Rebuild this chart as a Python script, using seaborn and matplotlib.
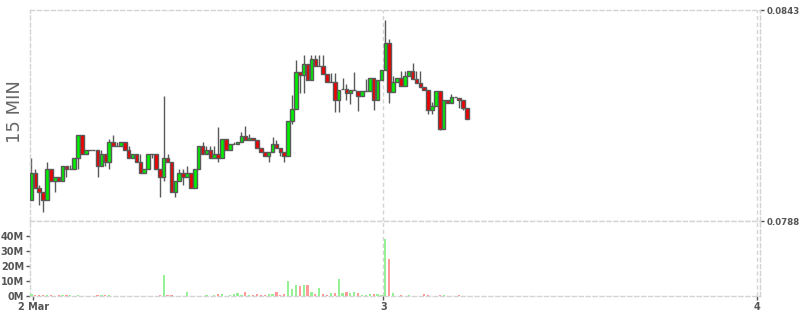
import numpy as np
import pandas as pd
import matplotlib
matplotlib.use("Agg")
import matplotlib.pyplot as plt
import seaborn as sns

# 15-minute slot index (counted from 2 Mar 00:00) of the first candle
first_slot = 5

opens = [0.07935, 0.08004, 0.07965, 0.07955, 0.07935, 0.08015, 0.07984, 0.07994, 0.07984, 0.08024,
         0.08015, 0.08015, 0.08043, 0.08104, 0.08054, 0.08064, 0.08064, 0.08064, 0.08024, 0.08054,
         0.08033, 0.08085, 0.08075, 0.08075, 0.08085, 0.08064, 0.08043, 0.08054, 0.08033, 0.08004,
         0.08015, 0.08054, 0.08054, 0.08015, 0.07994, 0.08043, 0.08033, 0.07955, 0.07984, 0.08004,
         0.07994, 0.08004, 0.07965, 0.08015, 0.08075, 0.08054, 0.08064, 0.08043, 0.08054, 0.08043,
         0.08094, 0.08064, 0.08080, 0.08080, 0.08085, 0.08101, 0.08090, 0.08096, 0.08090, 0.08070,
         0.08059, 0.08050, 0.08059, 0.08080, 0.08071, 0.08061, 0.08050, 0.08141, 0.08171, 0.08268,
         0.08261, 0.08290, 0.08247, 0.08303, 0.08285, 0.08285, 0.08264, 0.08242, 0.08242, 0.08195,
         0.08224, 0.08224, 0.08214, 0.08222, 0.08219, 0.08205, 0.08219, 0.08219, 0.08252, 0.08196,
         0.08248, 0.08274, 0.08344, 0.08216, 0.08242, 0.08252, 0.08231, 0.08257, 0.08270, 0.08250,
         0.08240, 0.08229, 0.08221, 0.08170, 0.08179, 0.08218, 0.08121, 0.08196, 0.08188, 0.08202,
         0.08200, 0.08195, 0.08174]

highs = [0.08043, 0.08015, 0.07974, 0.07955, 0.08033, 0.08015, 0.07994, 0.07994, 0.08024, 0.08024,
         0.08026, 0.08043, 0.08104, 0.08104, 0.08064, 0.08064, 0.08064, 0.08064, 0.08064, 0.08054,
         0.08094, 0.08104, 0.08085, 0.08085, 0.08085, 0.08075, 0.08054, 0.08054, 0.08054, 0.08015,
         0.08054, 0.08054, 0.08054, 0.08015, 0.08206, 0.08054, 0.08033, 0.07984, 0.08015, 0.08015,
         0.08024, 0.08004, 0.08015, 0.08075, 0.08085, 0.08075, 0.08075, 0.08075, 0.08124, 0.08094,
         0.08094, 0.08080, 0.08085, 0.08085, 0.08111, 0.08128, 0.08107, 0.08096, 0.08090, 0.08070,
         0.08059, 0.08059, 0.08100, 0.08091, 0.08071, 0.08061, 0.08141, 0.08208, 0.08300, 0.08268,
         0.08313, 0.08290, 0.08313, 0.08313, 0.08313, 0.08313, 0.08264, 0.08266, 0.08266, 0.08222,
         0.08253, 0.08237, 0.08222, 0.08268, 0.08219, 0.08219, 0.08250, 0.08252, 0.08252, 0.08248,
         0.08274, 0.08403, 0.08355, 0.08257, 0.08252, 0.08270, 0.08270, 0.08270, 0.08292, 0.08270,
         0.08270, 0.08229, 0.08221, 0.08189, 0.08218, 0.08218, 0.08196, 0.08196, 0.08212, 0.08202,
         0.08200, 0.08195, 0.08174]

lows = [0.07935, 0.07965, 0.07922, 0.07904, 0.07935, 0.07984, 0.07955, 0.07984, 0.07984, 0.07994,
        0.08015, 0.08015, 0.08015, 0.08054, 0.08054, 0.08064, 0.08064, 0.07994, 0.08024, 0.08024,
        0.08015, 0.08075, 0.08075, 0.08075, 0.08064, 0.08043, 0.08043, 0.08033, 0.08004, 0.08004,
        0.08015, 0.08043, 0.08015, 0.07943, 0.07983, 0.08033, 0.07955, 0.07943, 0.07984, 0.07974,
        0.07994, 0.07965, 0.07965, 0.08015, 0.08054, 0.08054, 0.08043, 0.08043, 0.08033, 0.08043,
        0.08064, 0.08064, 0.08080, 0.08080, 0.08085, 0.08090, 0.08090, 0.08090, 0.08070, 0.08059,
        0.08050, 0.08035, 0.08059, 0.08071, 0.08050, 0.08033, 0.08050, 0.08132, 0.08171, 0.08214,
        0.08214, 0.08247, 0.08247, 0.08285, 0.08285, 0.08264, 0.08242, 0.08242, 0.08164, 0.08163,
        0.08224, 0.08195, 0.08185, 0.08222, 0.08167, 0.08205, 0.08219, 0.08219, 0.08170, 0.08196,
        0.08248, 0.08274, 0.08188, 0.08216, 0.08242, 0.08231, 0.08231, 0.08257, 0.08250, 0.08240,
        0.08229, 0.08221, 0.08160, 0.08160, 0.08179, 0.08116, 0.08121, 0.08188, 0.08188, 0.08202,
        0.08175, 0.08169, 0.08145]

closes = [0.08004, 0.07965, 0.07955, 0.07935, 0.08015, 0.07984, 0.07994, 0.07984, 0.08024, 0.08015,
          0.08015, 0.08043, 0.08104, 0.08054, 0.08064, 0.08064, 0.08064, 0.08024, 0.08054, 0.08033,
          0.08085, 0.08075, 0.08075, 0.08085, 0.08064, 0.08043, 0.08054, 0.08033, 0.08004, 0.08015,
          0.08054, 0.08054, 0.08015, 0.07994, 0.08043, 0.08033, 0.07955, 0.07984, 0.08004, 0.07994,
          0.08004, 0.07965, 0.08015, 0.08075, 0.08054, 0.08064, 0.08043, 0.08054, 0.08043, 0.08094,
          0.08064, 0.08080, 0.08080, 0.08085, 0.08101, 0.08090, 0.08096, 0.08090, 0.08070, 0.08059,
          0.08050, 0.08059, 0.08080, 0.08071, 0.08061, 0.08050, 0.08141, 0.08171, 0.08268, 0.08261,
          0.08290, 0.08247, 0.08303, 0.08285, 0.08285, 0.08264, 0.08242, 0.08242, 0.08195, 0.08222,
          0.08224, 0.08214, 0.08222, 0.08222, 0.08205, 0.08219, 0.08219, 0.08252, 0.08196, 0.08248,
          0.08274, 0.08344, 0.08216, 0.08242, 0.08252, 0.08231, 0.08257, 0.08270, 0.08250, 0.08240,
          0.08229, 0.08221, 0.08170, 0.08179, 0.08218, 0.08121, 0.08196, 0.08188, 0.08202, 0.08202,
          0.08195, 0.08174, 0.08145]

volumes_m = [1.7, 1.2, 0.6, 0.6, 0.6, 0.6, 0.3, 0.6, 1.2, 0.6,
             0.6, 0.3, 0.6, 0.2, 0.2, 0.2, 0.2, 1.2, 1.2, 0.6,
             1.2, 0.3, 0.2, 0.2, 0.3, 0.2, 0.2, 0.2, 0.2, 0.3,
             0.2, 0.2, 0.2, 1.2, 14.5, 1.2, 0.6, 0.3, 0.2, 0.2,
             3.0, 0.3, 0.3, 0.3, 0.2, 0.6, 0.3, 0.7, 1.5, 1.5,
             0.2, 0.8, 1.5, 2.2, 0.9, 2.9, 0.9, 0.9, 1.5, 0.9,
             0.9, 1.5, 1.5, 2.9, 0.9, 1.5, 10.2, 4.9, 7.5, 6.9,
             7.5, 7.5, 2.9, 1.5, 5.5, 1.5, 0.9, 2.2, 2.2, 11.6,
             2.2, 2.9, 2.2, 2.9, 2.2, 0.9, 0.9, 1.5, 1.5, 1.5,
             0.9, 38.2, 24.9, 2.2, 0.3, 0.9, 0.3, 0.9, 0.3, 0.3,
             0.3, 1.5, 0.9, 0.3, 0.3, 0.9, 0.9, 0.2, 0.2, 0.2,
             0.9, 0.2, 0.2]

price_ticks = [0.0788, 0.0843]
vol_ticks = [0, 10, 20, 30, 40]
vol_tick_labels = ["0M", "10M", "20M", "30M", "40M"]
day_slots = [96, 192]           # 3 Mar 00:00, 4 Mar 00:00 in 15-min slots
x_tick_labels = ["2 Mar", "3", "4"]

n = len(opens)
df = pd.DataFrame({
    "slot": np.arange(first_slot, first_slot + n),
    "open": opens, "high": highs, "low": lows, "close": closes,
    "vol": volumes_m,
})
df["x"] = df["slot"] + 0.5
df["dir"] = np.where(df["close"] >= df["open"], "up", "down")

sns.set_style("white")
plt.rcParams["font.family"] = ["DejaVu Sans"]

W, H = 800, 315
fig = plt.figure(figsize=(W / 100, H / 100), dpi=100)


def rect(x0, y0, x1, y1):
    return [x0 / W, 1 - y1 / H, (x1 - x0) / W, (y1 - y0) / H]


ax = fig.add_axes(rect(29.5, 10, 760, 221))
axv = fig.add_axes(rect(29.5, 221, 760, 296.3))

edge = "#5a5a5a"
grid_c = "#d4d4d4"
txt_c = "#555555"

# candles
ax.vlines(df["x"], df["low"], df["high"], color=edge, lw=1.0, zorder=2)
body_bottom = np.minimum(df["open"], df["close"])
body_height = np.abs(df["close"] - df["open"])
body_colors = np.where(df["dir"] == "up", "#00f000", "#f00000")
ax.bar(df["x"], body_height, bottom=body_bottom, width=0.9, color=body_colors,
       edgecolor=edge, linewidth=1.0, zorder=3)

# volume bars
vol_palette = {"up": "#96f096", "down": "#ff9a9a"}
axv.bar(df["x"], df["vol"], width=0.55,
        color=[vol_palette[d] for d in df["dir"]], linewidth=0, zorder=3)

xmin, xmax = 5.0, 192.85
for a in (ax, axv):
    a.set_xlim(xmin, xmax)
    for s in a.spines.values():
        s.set_linestyle((0, (3, 2)))
        s.set_color(grid_c)
        s.set_linewidth(1)
    for d in day_slots:
        a.axvline(d, color=grid_c, lw=1, ls=(0, (3, 2)), zorder=1)
    a.set_xlabel("")
    a.set_ylabel("")

ax.set_ylim(price_ticks[0], price_ticks[1])
ax.yaxis.tick_right()
ax.set_yticks(price_ticks)
ax.set_yticklabels([f"{v:.4f}" for v in price_ticks])
ax.tick_params(axis="y", right=True, length=3, width=1, color=txt_c, pad=1.5,
               labelsize=6.2, labelcolor=txt_c)
ax.set_xticks([])
for lab in ax.get_yticklabels():
    lab.set_fontweight("bold")

axv.set_ylim(0, 50.2)
axv.set_yticks(vol_ticks)
axv.set_yticklabels(vol_tick_labels)
axv.set_xticks([6] + day_slots)
axv.set_xticklabels(x_tick_labels)
axv.tick_params(axis="y", left=True, length=3, width=1, color=txt_c, pad=1,
                labelsize=7, labelcolor=txt_c)
axv.tick_params(axis="x", bottom=True, length=3, width=1, color=txt_c, pad=1,
                labelsize=7, labelcolor=txt_c)
for lab in axv.get_yticklabels() + axv.get_xticklabels():
    lab.set_fontweight("bold")

fig.text(15 / W, 1 - 112 / H, "15 MIN", rotation=90, fontsize=13, color="#666666",
         ha="center", va="center")

fig.savefig("out.png", dpi=100)
